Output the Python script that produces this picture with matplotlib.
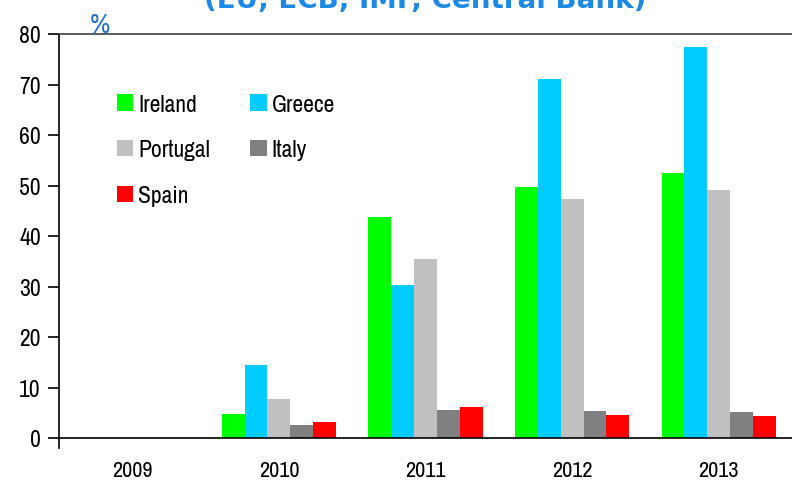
import numpy as np
import matplotlib
matplotlib.use("Agg")
import matplotlib.pyplot as plt
from matplotlib import font_manager

# Datos
years = ["2009", "2010", "2011", "2012", "2013"]
ireland = [0, 4.8, 43.8, 49.7, 52.4]
greece = [0, 14.4, 30.3, 71.0, 77.4]
portugal = [0, 7.8, 35.4, 47.3, 49.1]
italy = [0, 2.6, 5.5, 5.3, 5.1]
spain = [0, 3.1, 6.1, 4.6, 4.4]

series = [("Ireland", ireland, "#00FF00"),
          ("Greece", greece, "#00CCFF"),
          ("Portugal", portugal, "#C0C0C0"),
          ("Italy", italy, "#808080"),
          ("Spain", spain, "#FF0000")]

nombres = sorted({f.name for f in font_manager.fontManager.ttflist})
estrechas = [n for n in nombres if "Narrow" in n or "Condensed" in n]
plt.rcParams["font.family"] = estrechas[:1] + ["DejaVu Sans"]
plt.rcParams["font.stretch"] = "condensed"

fig = plt.figure(figsize=(7.92, 4.85), dpi=100)
ax = fig.add_axes([59 / 792, 1 - 439 / 485, 1 - 59 / 792, (439 - 35) / 485])

x = np.arange(len(years))
ancho = 0.156
barras = {}
for i, (nombre, valores, color) in enumerate(series):
    barras[nombre] = ax.bar(x + (i - 2) * ancho, valores, ancho, color=color,
                            label=nombre, linewidth=0)

ax.set_xlim(-0.5, 4.5)
ax.set_ylim(0, 80)
ax.set_yticks(range(0, 81, 10))
ax.set_xticks(x)
ax.set_xticklabels(years)
ax.tick_params(axis="x", length=0, pad=16, labelsize=16)
ax.tick_params(axis="y", length=8, width=1.2, direction="out", labelsize=17, pad=5)
ax.spines["right"].set_visible(False)
for lado in ["left", "bottom", "top"]:
    ax.spines[lado].set_linewidth(1.2)
ax.spines["left"].set_bounds(-2, 80)
ax.spines["top"].set_color("#404040")

orden = ["Ireland", "Portugal", "Spain", "Greece", "Italy"]
ax.legend([barras[n] for n in orden], orden, ncol=2, loc="upper left",
          bbox_to_anchor=(0.05, 0.905), frameon=False, fontsize=17,
          handlelength=0.7, handleheight=0.7, handletextpad=0.2,
          columnspacing=1.7, labelspacing=1.05)

fig.text(0.537, 1 - 8 / 485, "(EU, ECB, IMF, Central Bank)", color="#1E88E5",
         fontsize=20, fontweight="bold", ha="center", va="baseline",
         family="DejaVu Sans", stretch="normal")
fig.text(0.126, 1 - 33 / 485, "%", color="#1E6FC8", fontsize=20,
         ha="center", va="baseline")

fig.savefig("out.png", dpi=100)
